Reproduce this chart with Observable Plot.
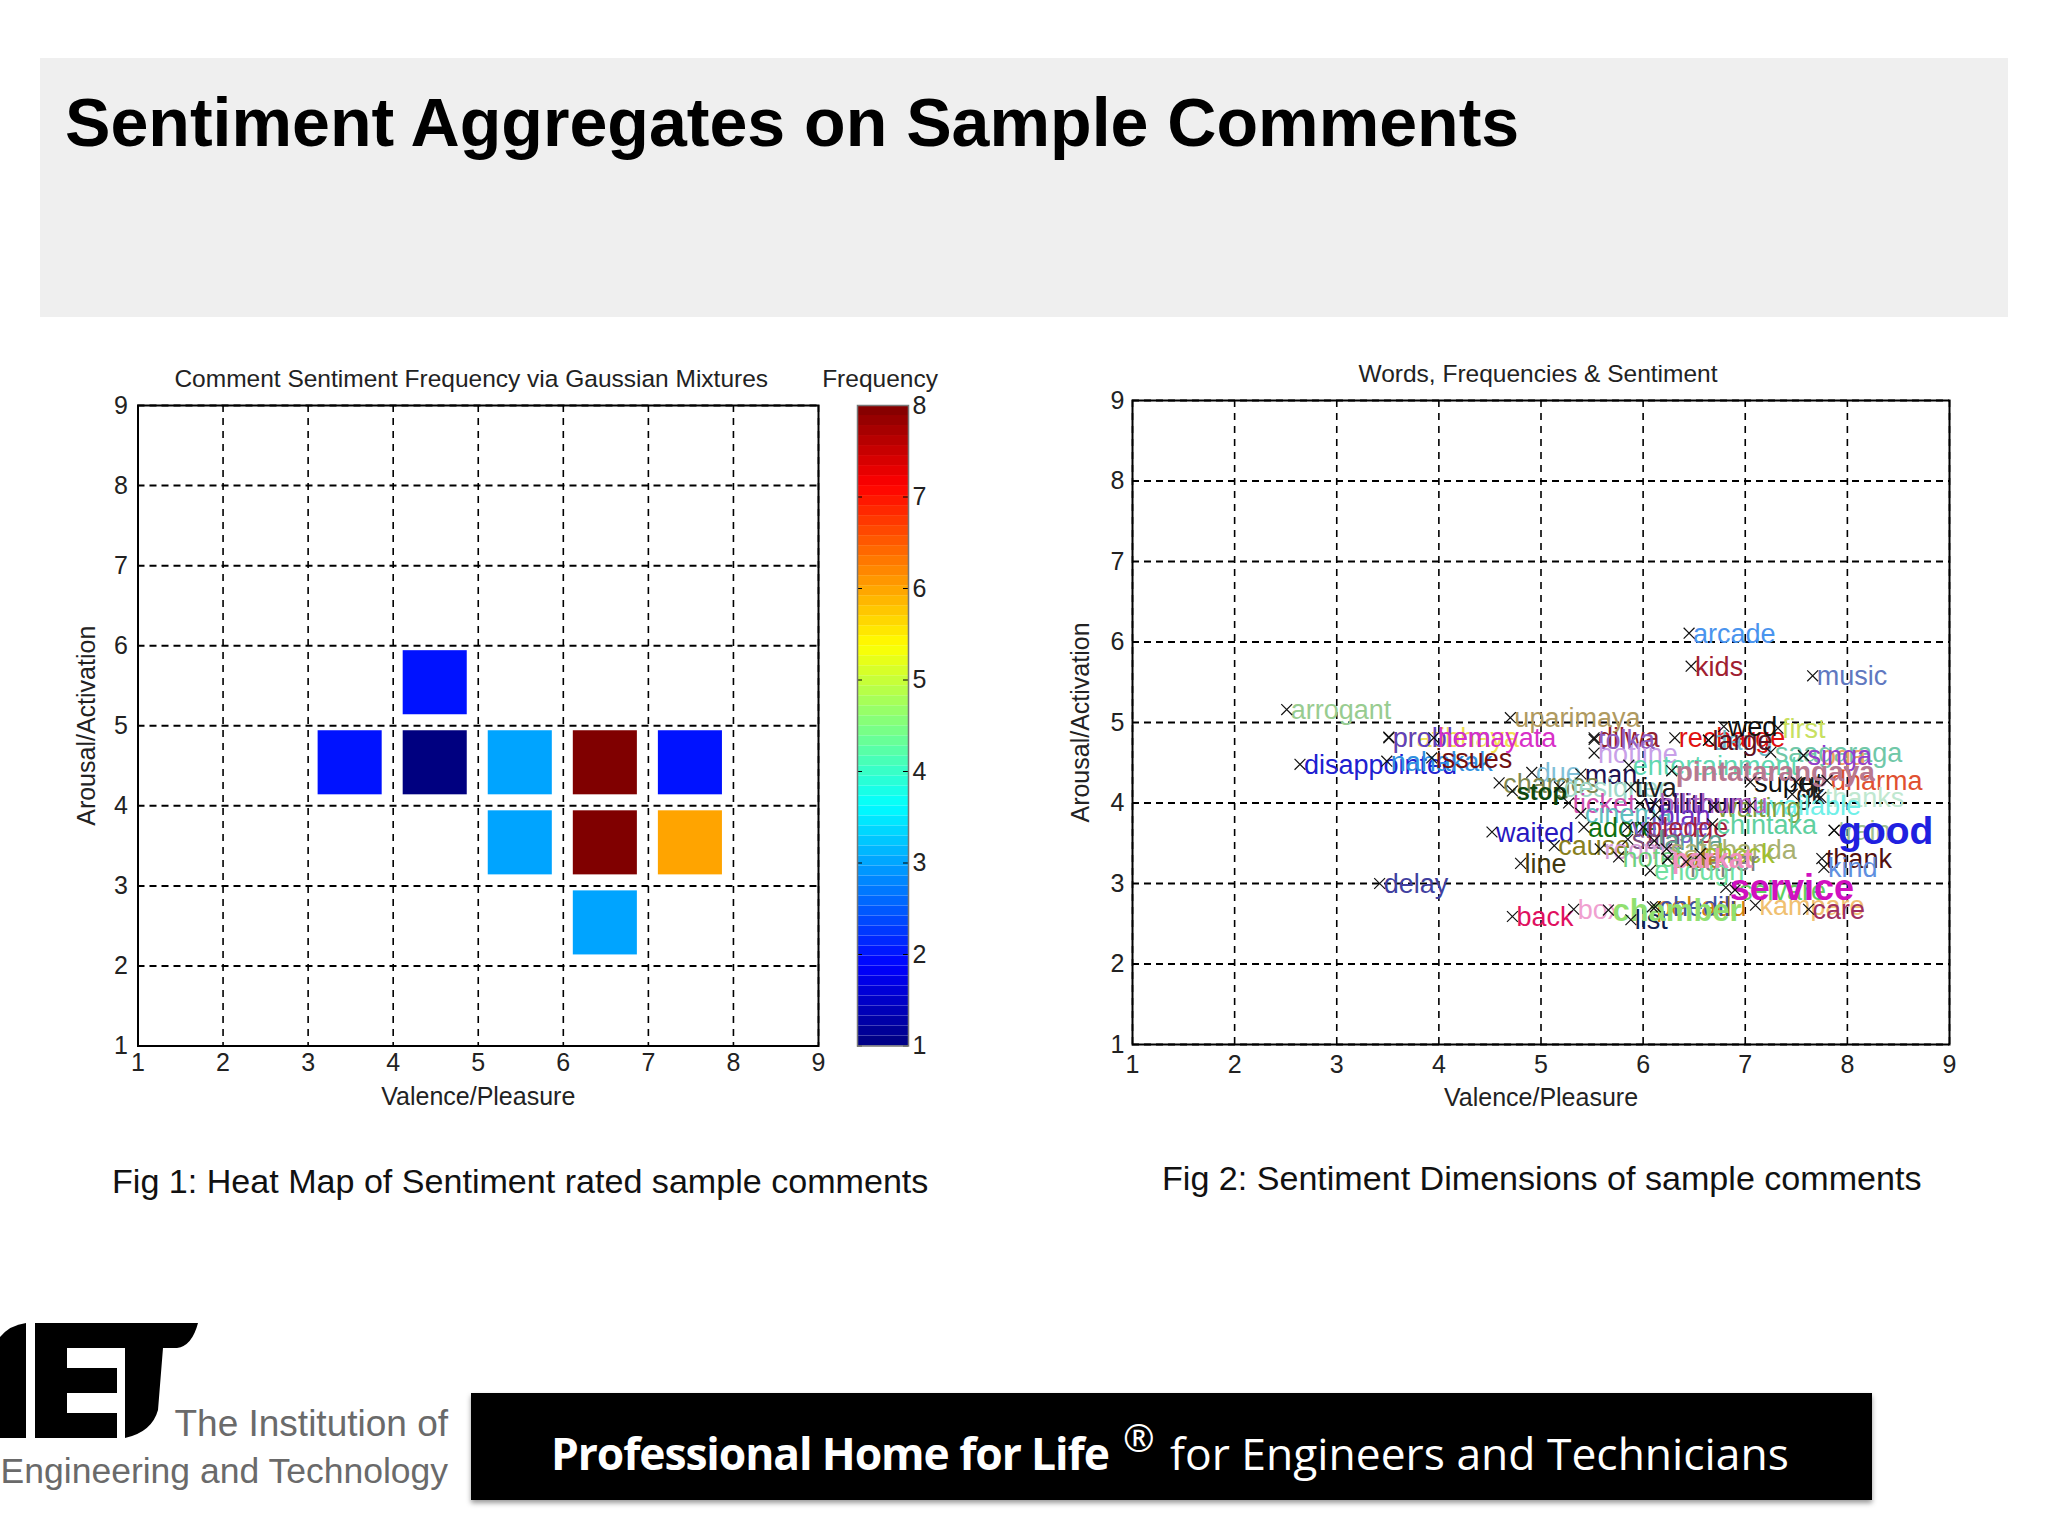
<!DOCTYPE html>
<html><head><meta charset="utf-8">
<script src="https://cdn.jsdelivr.net/npm/d3@7"></script>
<script src="https://cdn.jsdelivr.net/npm/@observablehq/plot@0.6"></script>
<style>
html,body{margin:0;padding:0;background:#fff;width:2048px;height:1536px;overflow:hidden;position:relative;font-family:"Liberation Sans",Arial,sans-serif}
.abs{position:absolute;white-space:nowrap}
#hdr{left:40px;top:58px;width:1968px;height:259px;background:#efefef}
#ttl{left:65px;top:82px;font-weight:700;font-size:68.1px;line-height:80px;color:#000}
.cap{font-size:34.1px;line-height:40px;color:#111}
#bar{left:471px;top:1393px;width:1401px;height:107px;background:#000;box-shadow:0 3px 5px #999}
.bt{color:#fff;font-family:"Open Sans","Noto Sans",sans-serif;font-size:44.4px;line-height:50px}
.lg{color:#6a6a6a;font-family:"Liberation Sans",sans-serif;line-height:46px;right:1600px}
svg{display:block}
</style></head><body>
<div class="abs" id="hdr"></div>
<div class="abs" id="ttl">Sentiment Aggregates on Sample Comments</div>
<div id="charts"></div>
<div class="abs cap" style="left:112px;top:1161px">Fig 1: Heat Map of Sentiment rated sample comments</div>
<div class="abs cap" style="left:1162px;top:1158px">Fig 2: Sentiment Dimensions of sample comments</div>
<svg class="abs" style="left:0;top:1310px" width="210" height="140" viewBox="0 1310 210 140">
<path d="M0 1337 Q10 1325 26 1323 V1438 H0 Z" fill="#000"/>
<path d="M35 1323 H198 Q192 1346 177 1348 H163 L158 1410 Q152 1432 125 1438 V1348 H67 V1368 H117 V1393 H67 V1413 H117 V1438 H35 Z" fill="#000"/>
</svg>
<div class="abs lg" style="top:1401px;font-size:37px">The Institution of</div>
<div class="abs lg" style="top:1448px;font-size:35.5px">Engineering and Technology</div>
<div class="abs" id="bar"></div>
<div class="abs bt" style="left:551px;top:1428px;font-weight:700;letter-spacing:-1.1px">Professional Home for Life</div>
<div class="abs bt" style="left:1123px;top:1412px;font-size:38px">®</div>
<div class="abs bt" style="left:1170px;top:1428px">for Engineers and Technicians</div>
<script>
const tickValues = [1,2,3,4,5,6,7,8,9];
const freqTicks = [1,2,3,4,5,6,7,8];

const cellValence = [3,4,4,5,6,7,5,6,7,6];
const cellArousal = [4,5,4,4,4,4,3,3,3,2];
const cellFrequency = [2,2,1,3,8,2,3,8,6,3];

const wordLabels = ["arcade","kids","music","arrogant","uparimaya","disappointed","pratibhaya","problem","hemayata","nahakak","issues","delay",
"dilwa","tolka","hotline","recharge","dang","large","wed","first","saagaraga","soga","singa","entertainment","pintatarangaya","man","due","charges","stop","designer","tiva","super","gt","dharma","gk","thanks","available","waiting",
"ticket","cinema","vallithuru","bilithumu","blah","waited","adore","village","pledge","chintaka","cause","line","sala","lanka","rooms","sathbanda","hotel","parkat","check","paper","cafe","enough","good","train","thank","kind","service","seivare","back","box","chamber","list","pehadu","chedili","kampare","care"];
const boldWords = ["pintatarangaya","stop","parkat","good","service","chamber"];
const wordValence = [6.45,6.47,7.66,2.51,4.70,2.64,3.51,3.51,3.95,3.49,3.93,3.42,
5.52,5.52,5.52,6.31,6.64,6.64,6.79,7.32,7.25,7.57,7.57,5.86,6.28,5.39,4.91,4.59,4.72,5.18,5.88,7.05,7.50,7.80,7.46,7.74,7.05,6.69,
5.27,5.39,5.97,6.12,6.12,4.52,5.42,5.85,6.00,6.68,5.13,4.80,5.85,6.11,5.58,6.23,5.76,6.24,6.56,6.42,6.24,6.07,7.87,7.87,7.75,7.77,6.81,6.90,4.72,5.32,5.66,5.88,6.09,6.12,7.10,7.62];
const wordArousal = [6.11,5.70,5.58,5.16,5.06,4.48,4.82,4.81,4.81,4.52,4.56,3.00,
4.81,4.79,4.62,4.81,4.78,4.78,4.95,4.93,4.63,4.59,4.59,4.47,4.40,4.36,4.38,4.25,4.15,4.20,4.20,4.26,4.26,4.28,4.11,4.07,3.97,3.95,
4.00,3.87,3.99,3.99,3.85,3.64,3.70,3.70,3.70,3.74,3.47,3.25,3.55,3.53,3.43,3.43,3.33,3.31,3.37,3.27,3.31,3.16,3.66,3.66,3.31,3.20,2.95,2.92,2.59,2.68,2.67,2.55,2.71,2.71,2.73,2.68];
const wordColors = ["#4a94ee","#a02030","#6078c0","#98cc90","#b09a60","#2020d0","#f0e050","#6040c0","#d830c8","#3090e0","#701010","#4040a0",
"#902030","#9060c0","#c8a0e8","#e01010","#70b8c8","#601020","#101010","#c8e060","#70c8a8","#f0a060","#9040d0","#60d8b0","#b87890","#201050","#80c0d8","#808850","#104810","#a0d8c8","#202020","#101010","#202020","#e05030","#202020","#c0e8d0","#70f0e8","#80a040",
"#d050b0","#60c0c0","#301060","#b060c0","#7030c0","#2818c0","#107010","#8060d0","#a02040","#60d0a0","#888020","#403810","#805080","#60a090","#d8a0d8","#a8b070","#70d080","#f090c0","#a0c030","#808080","#b08020","#70e0a0","#2020e0","#a0c090","#501010","#6090e0","#d010c0","#60d060","#e01060","#f0a0d0","#90e070","#102050","#d08010","#4050a0","#f0c070","#a03060"];
const wordSizes = [27,27,27,27,27,27,27,27,27,27,27,27,
27,27,27,27,27,27,27,27,27,27,27,27,28,27,27,27,24,27,27,27,27,27,27,27,27,27,
27,27,27,27,27,27,27,27,27,27,27,27,27,27,27,27,27,27,27,27,27,27,39,27,27,27,36,27,27,27,31,27,27,27,27,27];

const heatCells = cellValence.map((v,i)=>({x:v,y:cellArousal[i],f:cellFrequency[i]}));
const words = wordLabels.map((w,i)=>({w,x:wordValence[i],y:wordArousal[i],c:wordColors[i],s:wordSizes[i]}));
const levels = d3.range(64).map(i=>1+i*7/64);

function jet(t){
  const c=v=>Math.round(255*Math.max(0,Math.min(1,v)));
  return `rgb(${c(Math.min(4*t-1.5,-4*t+4.5))},${c(Math.min(4*t-0.5,-4*t+3.5))},${c(Math.min(4*t+0.5,-4*t+2.5))})`;
}
const baseStyle={fontFamily:'"Liberation Sans",Arial,sans-serif',fontSize:"24.5px",color:"#222",background:"transparent",overflow:"visible"};
const grid=()=>[
  Plot.gridX(tickValues,{stroke:"#000",strokeOpacity:1,strokeWidth:1.6,strokeDasharray:"7 6"}),
  Plot.gridY(tickValues,{stroke:"#000",strokeOpacity:1,strokeWidth:2,strokeDasharray:"7 5"})
];
const axes=(xPad,xLabel,yPad)=>[
  Plot.axisX(tickValues,{anchor:"bottom",tickSize:0,tickPadding:xPad,fontSize:25,tickFormat:"d",label:"Valence/Pleasure",labelAnchor:"center",labelArrow:"none",labelOffset:xLabel}),
  Plot.axisY(tickValues,{anchor:"left",tickSize:0,tickPadding:yPad,fontSize:25,tickFormat:"d",label:"Arousal/Activation",labelAnchor:"center",labelArrow:"none",labelOffset:61})
];
function place(svg,l,t){svg.style.position="absolute";svg.style.left=l+"px";svg.style.top=t+"px";document.getElementById("charts").appendChild(svg);}

const heat=Plot.plot({width:830,height:760,marginLeft:137.5,marginRight:12,marginTop:45,marginBottom:74.5,style:baseStyle,
  x:{domain:[1,9]},y:{domain:[1,9]},color:{type:"linear",domain:[1,8],interpolate:jet},
  marks:[
    ...grid(),
    Plot.rect(heatCells,{x1:"x",x2:d=>d.x+1,y1:"y",y2:d=>d.y+1,fill:"f",insetLeft:10,insetRight:11,insetTop:5,insetBottom:11}),
    Plot.frame({stroke:"#000",strokeWidth:2}),
    ...axes(7,59,10),
    Plot.text(["Comment Sentiment Frequency via Gaussian Mixtures"],{frameAnchor:"top",dy:-36,dx:-7,fontSize:24.5})
  ]});
place(heat,0,360);

const bar=Plot.plot({width:110,height:760,marginLeft:0,marginRight:59,marginTop:45,marginBottom:74.5,style:baseStyle,
  x:{axis:null},y:{domain:[1,8]},color:{type:"linear",domain:[1,8],interpolate:jet},
  marks:[
    Plot.rect(levels,{y1:d=>d,y2:d=>d+7/64,fill:d=>d+3.5/64}),
    Plot.tickY(freqTicks,{y:d=>d,insetRight:46,stroke:"#000"}),
    Plot.tickY(freqTicks,{y:d=>d,insetLeft:46,stroke:"#000"}),
    Plot.frame({stroke:"#777",strokeWidth:1.5}),
    Plot.axisY(freqTicks,{anchor:"right",tickSize:0,tickPadding:4,fontSize:25,tickFormat:"d",label:null}),
    Plot.text(["Frequency"],{frameAnchor:"top",dy:-36,dx:-3,fontSize:24.5})
  ]});
place(bar,857,360);

const wordText=(subset,weight)=>Plot.text(subset,{x:"x",y:"y",text:"w",fill:"c",fontSize:"s",textAnchor:"start",dx:4,dy:1,fontWeight:weight});
const scatter=Plot.plot({width:977,height:760,marginLeft:132,marginRight:28,marginTop:40,marginBottom:76,style:baseStyle,
  x:{domain:[1,9]},y:{domain:[1,9]},
  marks:[
    ...grid(),
    wordText(words.filter(d=>!boldWords.includes(d.w)),400),
    wordText(words.filter(d=>boldWords.includes(d.w)),700),
    Plot.dot(words,{x:"x",y:"y",symbol:"times",r:5,stroke:"#111",strokeWidth:1.2}),
    Plot.frame({stroke:"#000",strokeWidth:2}),
    ...axes(11,61,8),
    Plot.text(["Words, Frequencies & Sentiment"],{frameAnchor:"top",dy:-36,dx:-3,fontSize:24.5})
  ]});
place(scatter,1000,360);
</script>
</body></html>
